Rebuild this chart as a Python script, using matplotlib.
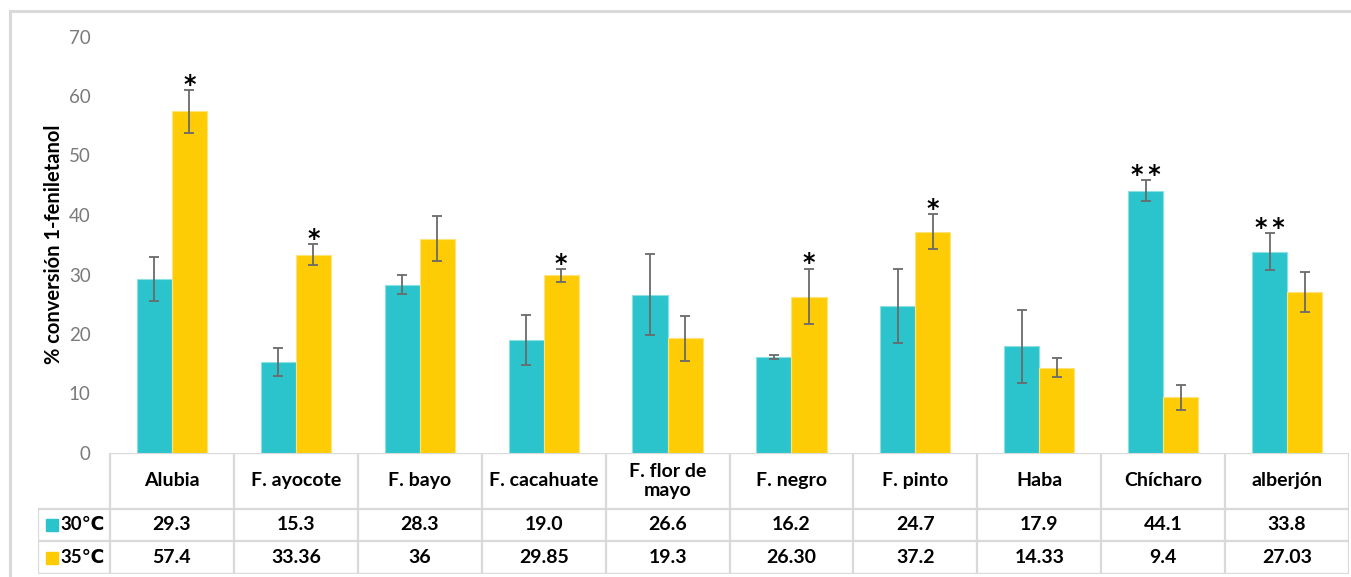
import numpy as np
import matplotlib
matplotlib.use('Agg')
import matplotlib.pyplot as plt
from matplotlib.patches import Rectangle
from matplotlib.lines import Line2D

plt.rcParams['font.family'] = ['Lato', 'DejaVu Sans']

#=========================================================================
# data
categories = ['Alubia', 'F. ayocote', 'F. bayo', 'F. cacahuate', 'F. flor de\nmayo',
              'F. negro', 'F. pinto', 'Haba', 'Chícharo', 'alberjón']
series_names = ['30℃', '35℃']

conv_30 = [29.3, 15.3, 28.3, 19.0, 26.6, 16.2, 24.7, 17.9, 44.1, 33.8]
conv_35 = [57.4, 33.36, 36, 29.85, 19.3, 26.30, 37.2, 14.33, 9.4, 27.03]

err_30 = [3.7, 2.3, 1.6, 4.2, 6.8, 0.35, 6.2, 6.2, 1.8, 3.1]
err_35 = [3.6, 1.75, 3.8, 1.1, 3.8, 4.7, 2.9, 1.6, 2.1, 3.4]

# labels shown in the data table (as printed)
table_30 = ['29.3', '15.3', '28.3', '19.0', '26.6', '16.2', '24.7', '17.9', '44.1', '33.8']
table_35 = ['57.4', '33.36', '36', '29.85', '19.3', '26.30', '37.2', '14.33', '9.4', '27.03']

# significance marks: (series index, category index, text)
marks = [(1, 0, '*'), (1, 1, '*'), (1, 3, '*'), (1, 5, '*'), (1, 6, '*'),
         (0, 8, '*\u2009*'), (0, 9, '*\u2009*')]

#=========================================================================
W, H = 1351, 577
fig = plt.figure(figsize=(W / 100, H / 100), dpi=100)

teal = '#2BC4CC'
yellow = '#FECC05'
grid_c = '#D9D9D9'

# outer chart border (cut at right/bottom in the original)
fig.add_artist(Line2D([10 / W, 10 / W], [0, 1 - 11 / H], color=grid_c, lw=2.2))
fig.add_artist(Line2D([10 / W, 1], [1 - 11 / H, 1 - 11 / H], color=grid_c, lw=2.2))

x_left, x_right = 110, 1349
y_top, y_zero, y_bot = 36.5, 453, 574
ax = fig.add_axes([x_left / W, 1 - y_zero / H, (x_right - x_left) / W, (y_zero - y_top) / H])

x = np.arange(len(categories))
bw = 0.283
err_kw = dict(ecolor='#6A6A6A', elinewidth=1.3, capsize=3.5, capthick=1.3)
b1 = ax.bar(x - bw / 2, conv_30, bw, color=teal, edgecolor='#8CE0E4', linewidth=0.8,
            yerr=err_30, error_kw=err_kw, zorder=2)
b2 = ax.bar(x + bw / 2, conv_35, bw, color=yellow, edgecolor='#FFE27A', linewidth=0.8,
            yerr=err_35, error_kw=err_kw, zorder=2)

vals = [conv_30, conv_35]
errs = [err_30, err_35]
for s, c, txt in marks:
    xs = x[c] + (s - 0.5) * bw
    ytop = vals[s][c] + errs[s][c]
    ax.annotate(txt, (xs, ytop), xytext=(0, -5), textcoords='offset points',
                ha='center', va='bottom', fontsize=17, fontweight='bold', color='black',
                family='DejaVu Sans')

ax.set_xlim(-0.5, len(categories) - 0.5)
ax.set_ylim(0, 70)
ax.set_yticks(np.arange(0, 71, 10))
ax.set_xticks([])
ax.tick_params(axis='y', length=0, pad=14, labelsize=13.5, labelcolor='#7A7A7A')
for sp in ax.spines.values():
    sp.set_visible(False)
ax.set_ylabel('% conversión 1-feniletanol', fontsize=14.5, fontweight='bold')
ax.yaxis.set_label_coords(-(x_left - 64) / (x_right - x_left), 0.5)

#=========================================================================
# data table under the chart
legend_left = 38
cat_w = (x_right - x_left) / len(categories)
tx0 = -0.5 - (x_left - legend_left) / cat_w
tax = fig.add_axes([legend_left / W, 1 - y_bot / H, (x_right - legend_left) / W, (y_bot - y_zero) / H])
tax.set_xlim(tx0, len(categories) - 0.5)
tax.set_ylim(y_bot, y_zero)  # pixel rows, top-down
tax.axis('off')

row_head, row_1, row_2 = 508.7, 541.3, y_bot
lkw = dict(color=grid_c, lw=1.6, solid_capstyle='butt')
tax.plot([-0.5, len(categories) - 0.5], [y_zero, y_zero], **lkw)
for yy in (row_head, row_1, row_2):
    tax.plot([tx0, len(categories) - 0.5], [yy, yy], **lkw)
for i in range(len(categories) + 1):
    tax.plot([i - 0.5, i - 0.5], [y_zero, y_bot], **lkw)
tax.plot([tx0, tx0], [row_head, y_bot], **lkw)

for i, name in enumerate(categories):
    tax.text(i, (y_zero + row_head) / 2, name, ha='center', va='center',
             fontsize=14, fontweight='bold', linespacing=1.15)
    tax.text(i, (row_head + row_1) / 2, table_30[i], ha='center', va='center',
             fontsize=14, fontweight='bold')
    tax.text(i, (row_1 + row_2) / 2, table_35[i], ha='center', va='center',
             fontsize=14, fontweight='bold')

for (ya, yb), col, name in zip([(row_head, row_1), (row_1, row_2)], [teal, yellow], series_names):
    yc = (ya + yb) / 2
    sq = 12 / cat_w
    tax.add_patch(Rectangle((tx0 + 8 / cat_w, yc + 6), sq, -12, color=col, clip_on=False))
    tax.text(tx0 + 22 / cat_w, yc, name, ha='left', va='center', fontsize=13.5,
             fontweight='bold', family=['Lato', 'DejaVu Sans'])

fig.savefig('out.png', dpi=100)
